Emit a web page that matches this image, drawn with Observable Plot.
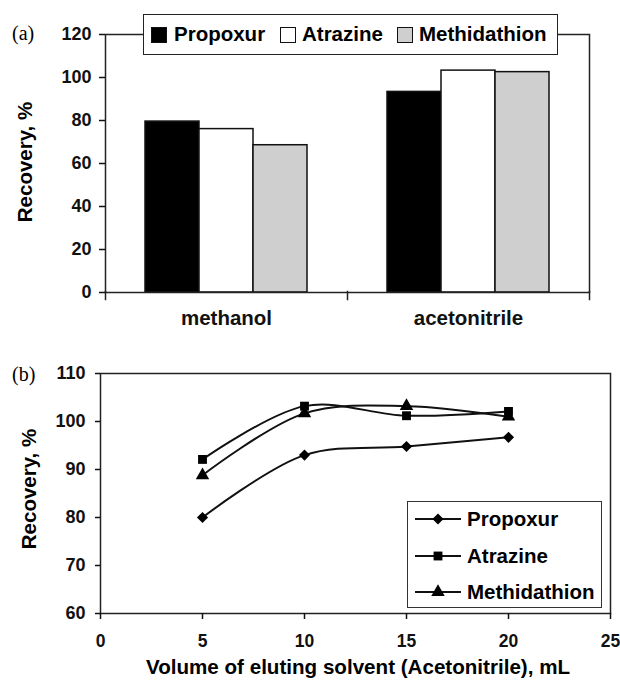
<!DOCTYPE html>
<html>
<head>
<meta charset="utf-8">
<script src="https://cdn.jsdelivr.net/npm/d3@7"></script>
<script src="https://cdn.jsdelivr.net/npm/@observablehq/plot@0.6"></script>
<style>
  html, body { margin: 0; padding: 0; background: #fff; }
  #wrap { position: relative; width: 620px; height: 685px; overflow: hidden; font-family: "Liberation Sans", Arial, sans-serif; font-weight: bold; color: #000; }
  .abs { position: absolute; white-space: nowrap; }
  .panel { font-family: "Liberation Serif", "Times New Roman", serif; font-weight: normal; font-size: 20px; line-height: 20px; }
  .ytitle { font-size: 20.5px; line-height: 20px; transform: translate(-50%, -50%) rotate(-90deg); }
  .xtitle { font-size: 20.6px; line-height: 20px; transform: translateX(-50%); }
  .legA { border: 1.5px solid #222; background: #fff; box-sizing: border-box; }
  .legA .sw { position: absolute; top: 11.5px; width: 16px; height: 16px; border: 1.5px solid #111; box-sizing: border-box; }
  .legA .tx { position: absolute; top: 8px; font-size: 20.5px; line-height: 22px; }
  .legB { border: 1.5px solid #333; background: #fff; box-sizing: border-box; }
  .legB .row { position: absolute; left: 7px; height: 22px; }
  .legB svg { position: absolute; left: 0; top: 0; }
  .legB .tx { position: absolute; left: 52px; top: 0; font-size: 20.5px; line-height: 22px; }
</style>
</head>
<body>
<div id="wrap">
  <div id="plotA" class="abs" style="left:0;top:0"></div>
  <div id="plotB" class="abs" style="left:0;top:330px"></div>
</div>
<script>
// ---------- Data: panel (a) ----------
const categories = ["methanol", "acetonitrile"];
const seriesNames = ["Propoxur", "Atrazine", "Methidathion"];
const barPropoxur = [79.5, 93.3];
const barAtrazine = [76.0, 103.2];
const barMethidathion = [68.5, 102.5];
const barColors = ["#000000", "#ffffff", "#cfcfcf"];
const yTicksA = [0, 20, 40, 60, 80, 100, 120];

// ---------- Data: panel (b) ----------
const volumes = [5, 10, 15, 20];
const linePropoxur = [80.0, 93.0, 94.8, 96.7];
const lineAtrazine = [92.1, 103.2, 101.2, 102.1];
const lineMethidathion = [88.8, 101.7, 103.2, 101.0];
const symbolsB = ["diamond2", "square", "triangle"];
const xTicksB = [0, 5, 10, 15, 20, 25];
const yTicksB = [60, 70, 80, 90, 100, 110];

const fontFamily = "'Liberation Sans', Arial, sans-serif";

// ---------- Panel (a) ----------
const barSeries = [barPropoxur, barAtrazine, barMethidathion];
const barRows = [];
categories.forEach((c, i) => seriesNames.forEach((s, j) => barRows.push({category: c, series: s, value: barSeries[j][i]})));

const plotA = Plot.plot({
  width: 620, height: 330,
  marginLeft: 104, marginRight: 31, marginTop: 34, marginBottom: 38,
  style: {fontFamily, fontWeight: "bold", color: "#111", background: "transparent", overflow: "visible"},
  fx: {domain: categories, padding: 0},
  x: {domain: seriesNames, paddingInner: 0, paddingOuter: 0.73, axis: null},
  y: {domain: [0, 120]},
  color: {domain: seriesNames, range: barColors},
  marks: [
    Plot.barY(barRows, {fx: "category", x: "series", y: "value", fill: "series", stroke: "#111", strokeWidth: 1.5}),
    Plot.frame({facet: "super", stroke: "#222", strokeWidth: 1.5}),
    Plot.frame({anchor: "left", insetTop: 257, insetBottom: -7, stroke: "#222", strokeWidth: 1.5}),
    Plot.frame({facet: "super", anchor: "right", insetTop: 257, insetBottom: -7, stroke: "#222", strokeWidth: 1.5}),
    Plot.axisY({ticks: yTicksA, tickSize: 6, tickPadding: 8, fontSize: 18, strokeWidth: 1.5, label: null}),
    Plot.axisFx({anchor: "bottom", tickSize: 0, tickPadding: 18, fontSize: 20.5, label: null})
  ]
});
document.getElementById("plotA").appendChild(plotA);

// ---------- Panel (b) ----------
const lineSeries = [linePropoxur, lineAtrazine, lineMethidathion];
const lineRows = [];
seriesNames.forEach((s, j) => volumes.forEach((v, i) => lineRows.push({series: s, volume: v, value: lineSeries[j][i]})));

const plotB = Plot.plot({
  width: 620, height: 355,
  marginLeft: 100, marginRight: 10, marginTop: 43, marginBottom: 72,
  style: {fontFamily, fontWeight: "bold", color: "#111", background: "transparent", overflow: "visible"},
  x: {domain: [0, 25]},
  y: {domain: [60, 110]},
  symbol: {domain: seriesNames, range: symbolsB},
  marks: [
    Plot.frame({stroke: "#222", strokeWidth: 1.5}),
    Plot.line(lineRows, {x: "volume", y: "value", z: "series", curve: "catmull-rom", stroke: "#111", strokeWidth: 2}),
    Plot.dot(lineRows, {x: "volume", y: "value", symbol: "series", fill: "#000", stroke: "none", r: 5}),
    Plot.axisX({ticks: xTicksB, tickSize: 6, tickPadding: 15, fontSize: 17.5, strokeWidth: 1.5, label: null}),
    Plot.axisY({ticks: yTicksB, tickSize: 5, tickPadding: 10, fontSize: 18, strokeWidth: 1.5, label: null})
  ]
});
document.getElementById("plotB").appendChild(plotB);

// ---------- Text overlays and legends ----------
const wrap = document.getElementById("wrap");
function add(html) { wrap.insertAdjacentHTML("beforeend", html); }

add(`<div class="abs panel" style="left:12px;top:23px">(a)</div>`);
add(`<div class="abs panel" style="left:12px;top:364px">(b)</div>`);
add(`<div class="abs ytitle" style="left:25px;top:162px">Recovery, %</div>`);
add(`<div class="abs ytitle" style="left:29px;top:489px">Recovery, %</div>`);
add(`<div class="abs xtitle" style="left:358px;top:657px">Volume of eluting solvent (Acetonitrile), mL</div>`);

// Legend (a)
const swLeft = [7, 136, 253];
const txLeft = [30, 158, 275];
let legA = `<div class="abs legA" style="left:143px;top:14px;width:415px;height:41px">`;
seriesNames.forEach((s, j) => {
  legA += `<div class="sw" style="left:${swLeft[j]}px;background:${barColors[j]}"></div>`;
  legA += `<div class="tx" style="left:${txLeft[j]}px">${s}</div>`;
});
legA += `</div>`;
add(legA);

// Legend (b)
const rowTops = [6, 43, 79];
let legB = `<div class="abs legB" style="left:407px;top:501px;width:195px;height:107px">`;
seriesNames.forEach((s, j) => {
  const d3sym = {diamond2: d3.symbolDiamond2, square: d3.symbolSquare, triangle: d3.symbolTriangle}[symbolsB[j]];
  const path = d3.symbol(d3sym, Math.PI * 5 * 5)();
  legB += `<div class="row" style="top:${rowTops[j]}px"><svg width="50" height="22"><line x1="0" x2="46" y1="11" y2="11" stroke="#111" stroke-width="2"/><path transform="translate(23,11)" d="${path}" fill="#000"/></svg><div class="tx">${s}</div></div>`;
});
legB += `</div>`;
add(legB);
</script>
</body>
</html>
